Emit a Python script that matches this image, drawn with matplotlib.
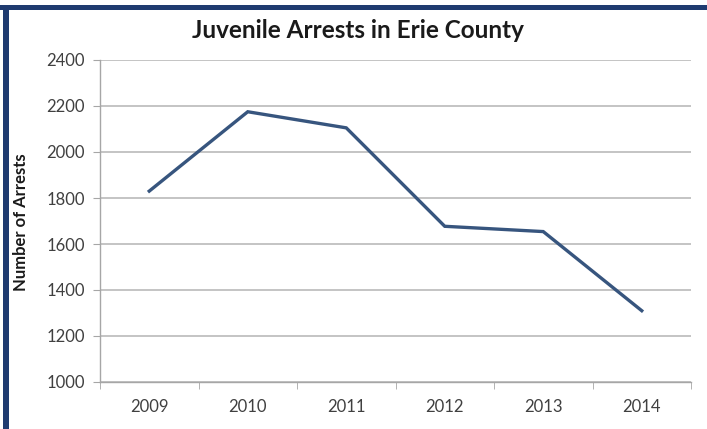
import matplotlib
matplotlib.use("Agg")
import matplotlib.pyplot as plt
from matplotlib.patches import Rectangle
import numpy as np

years = ["2009", "2010", "2011", "2012", "2013", "2014"]
arrests = [1830, 2175, 2105, 1677, 1654, 1310]
y_ticks = [1000, 1200, 1400, 1600, 1800, 2000, 2200, 2400]

W, H = 707, 429
fig = plt.figure(figsize=(W / 100, H / 100), dpi=100)
fig.patch.set_facecolor("white")

# frame bands along the top and left edges
band = "#1f3b70"
fig.patches.append(Rectangle((0, 1 - 10 / H), 1, 5 / H, transform=fig.transFigure,
                             facecolor=band, edgecolor="none"))
fig.patches.append(Rectangle((3 / W, 0), 6 / W, 1 - 5 / H, transform=fig.transFigure,
                             facecolor=band, edgecolor="none"))

left, right, top, bottom = 100, 691, 60, 382
ax = fig.add_axes([left / W, 1 - bottom / H, (right - left) / W, (bottom - top) / H])

x = np.arange(len(years))
ax.plot(x, arrests, color="#37557e", linewidth=2.4, solid_joinstyle="miter", zorder=3)

ax.set_xlim(-0.5, len(years) - 0.5)
ax.set_ylim(y_ticks[0], y_ticks[-1])
ax.set_yticks(y_ticks)
ax.set_yticklabels([str(v) for v in y_ticks])
ax.set_xticks(x)
ax.set_xticklabels(years)
ax.set_xticks(np.arange(-0.5, len(years)), minor=True)

grid_c = "#bfbfbf"
ax.grid(axis="y", color=grid_c, linewidth=1.3, zorder=0)
for s in ["top", "right"]:
    ax.spines[s].set_visible(False)
for s in ["left", "bottom"]:
    ax.spines[s].set_color("#a6a6a6")
    ax.spines[s].set_linewidth(1.0)

font = "Lato"
ax.tick_params(axis="y", direction="out", length=5, color="#a6a6a6", pad=6,
               labelsize=12, labelcolor="#404040")
ax.tick_params(axis="x", which="major", length=0, pad=12,
               labelsize=12, labelcolor="#404040")
ax.tick_params(axis="x", which="minor", direction="out", length=5, color="#a6a6a6")
for lab in ax.get_xticklabels() + ax.get_yticklabels():
    lab.set_fontfamily(font)

fig.text(358 / W, 1 - 31 / H, "Juvenile Arrests in Erie County", ha="center", va="center",
         fontsize=17.5, fontweight="bold", fontfamily=font, color="#1a1a1a")
fig.text(21 / W, 1 - 222 / H, "Number of Arrests", ha="center", va="center",
         rotation=90, fontsize=12, fontweight="bold", fontfamily=font, color="#1a1a1a")

fig.savefig("out.png", dpi=100)
